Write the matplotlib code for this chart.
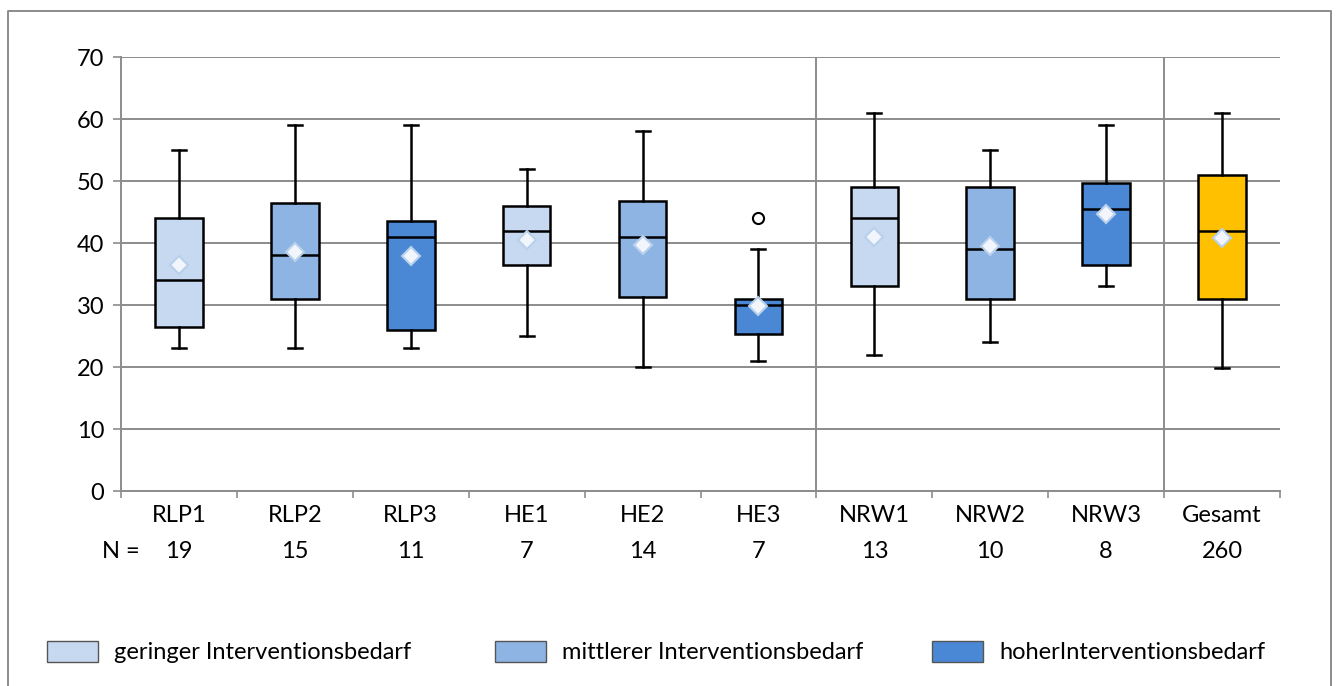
import matplotlib
matplotlib.use("Agg")
import matplotlib.pyplot as plt
from matplotlib.patches import Patch
from matplotlib.lines import Line2D

plt.rcParams['font.family'] = ['Lato', 'DejaVu Sans']

categories = ["RLP1", "RLP2", "RLP3", "HE1", "HE2", "HE3", "NRW1", "NRW2", "NRW3", "Gesamt"]
n_values = [19, 15, 11, 7, 14, 7, 13, 10, 8, 260]
whisker_low = [23, 23, 23, 25, 20, 21, 22, 24, 33, 19.8]
q1 = [26.5, 31, 26, 36.5, 31.3, 25.4, 33, 31, 36.5, 31]
medians = [34, 38, 41, 42, 41, 30, 44, 39, 45.5, 42]
q3 = [44, 46.4, 43.5, 46, 46.8, 31, 49, 49, 49.7, 51]
whisker_high = [55, 59, 59, 52, 58, 39, 61, 55, 59, 61]
means = [36.5, 38.6, 37.9, 40.5, 39.7, 29.8, 41, 39.5, 44.7, 40.8]
outliers = [[], [], [], [], [], [44], [], [], [], []]
groups = ["gering", "mittel", "hoch", "gering", "mittel", "hoch", "gering", "mittel", "hoch", "gesamt"]

colors = {"gering": "#c6d9f1", "mittel": "#8db4e2", "hoch": "#4a88d6", "gesamt": "#ffc000"}
legend_labels = ["geringer Interventionsbedarf", "mittlerer Interventionsbedarf", "hoherInterventionsbedarf"]

fig = plt.figure(figsize=(13.41, 6.86), dpi=100)
ax = fig.add_axes([121 / 1341, 1 - 491 / 686, 1159 / 1341, 434 / 686])

stats = []
for i in range(len(categories)):
    stats.append(dict(whislo=whisker_low[i], q1=q1[i], med=medians[i], q3=q3[i],
                      whishi=whisker_high[i], mean=means[i], fliers=outliers[i]))

positions = list(range(len(categories)))
bp = ax.bxp(stats, positions=positions, widths=0.41, patch_artist=True, showmeans=True,
            boxprops=dict(edgecolor="black", linewidth=1.8),
            medianprops=dict(color="black", linewidth=1.8),
            whiskerprops=dict(color="black", linewidth=1.8),
            capprops=dict(color="black", linewidth=1.8),
            capwidths=0.12,
            meanprops=dict(marker="D", markersize=9, markerfacecolor="#f2f6fc",
                           markeredgecolor="#b9d0ec", markeredgewidth=1.5),
            flierprops=dict(marker="o", markersize=8, markerfacecolor="white",
                            markeredgecolor="black", markeredgewidth=1.5),
            zorder=3)
for patch, g in zip(bp["boxes"], groups):
    patch.set_facecolor(colors[g])

ax.set_xlim(-0.5, len(categories) - 0.5)
ax.set_ylim(0, 70)
ax.set_yticks(range(0, 71, 10))
ax.yaxis.grid(True, color="#8c8c8c", linewidth=1.4, zorder=0)
ax.set_axisbelow(True)
for x in [5.5, 8.5]:
    ax.axvline(x, color="#8c8c8c", linewidth=1.4, zorder=1)

for s in ["top", "right"]:
    ax.spines[s].set_visible(False)
for s in ["left", "bottom"]:
    ax.spines[s].set_color("#8c8c8c")
    ax.spines[s].set_linewidth(1.4)

ax.tick_params(axis="y", colors="#8c8c8c", labelcolor="black", labelsize=17, length=6, width=1.2, pad=6)
ax.set_xticks(positions)
ax.set_xticklabels(categories)
ax.tick_params(axis="x", length=0, labelsize=17, pad=10)
ax.set_xticks([p + 0.5 for p in [-1] + positions], minor=True)
ax.tick_params(axis="x", which="minor", length=5, width=1.2, colors="#8c8c8c")

for p, n in zip(positions, n_values):
    ax.text(p, -9.7, str(n), ha="center", va="center", fontsize=17, clip_on=False)
ax.text(-0.5, -9.7, "N =", ha="center", va="center", fontsize=17, clip_on=False)

# outer frame
fig.add_artist(Line2D([8 / 1341, 8 / 1341, 1331 / 1341, 1331 / 1341], [0, 1 - 11 / 686, 1 - 11 / 686, 0],
                      transform=fig.transFigure, color="#8c8c8c", linewidth=1.4))

handles = [Patch(facecolor=colors[g], edgecolor="#555555", linewidth=1.0) for g in ["gering", "mittel", "hoch"]]
leg_x = [47, 495, 932]
for h, lbl, x in zip(handles, legend_labels, leg_x):
    fig.legend([h], [lbl], loc="center left", bbox_to_anchor=(x / 1341, 1 - 652 / 686),
               frameon=False, fontsize=17, handlelength=2.15, handleheight=1.0, handletextpad=0.7,
               borderpad=0, borderaxespad=0)

fig.savefig("out.png", dpi=100)
